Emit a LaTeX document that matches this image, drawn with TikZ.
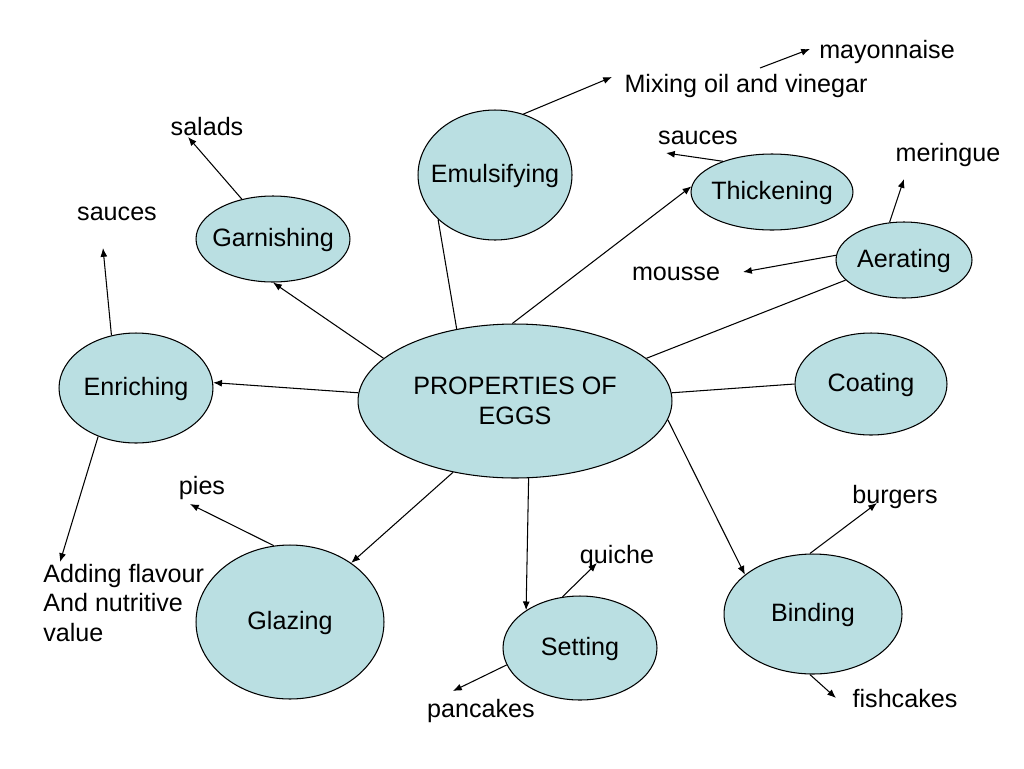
\documentclass[tikz,border=0pt]{standalone}
\usepackage{fontspec}
\setmainfont{Liberation Sans}
\usetikzlibrary{shapes.geometric,arrows.meta}
\definecolor{eggfill}{RGB}{186,223,226}
\begin{document}
\begin{tikzpicture}[x=0.02cm,y=-0.02cm,
  font=\fontsize{14.3}{17}\selectfont,
  prop/.style={ellipse,draw=black,line width=0.6pt,fill=eggfill,inner sep=0pt,text height=1.1em,text depth=0.21em},
  centre/.style={ellipse,draw=black,line width=0.6pt,fill=eggfill,inner sep=0pt,align=center},
  lbl/.style={inner sep=0pt,text height=1.1em,text depth=0.21em},
  multi/.style={inner sep=0pt,align=left},
  conn/.style={line width=0.6pt,draw=black},
  arr/.style={conn,-{Latex[length=5pt,width=4pt]}}]
\useasboundingbox (0,0) rectangle (1024,768);
% property ellipses
\node[centre,minimum width=6.28cm,minimum height=3.08cm] (c) at (515,401) {PROPERTIES OF\\EGGS};
\node[prop,minimum width=3.08cm,minimum height=2.6cm] (emu) at (495,175) {\makebox[0pt]{Emulsifying}};
\node[prop,minimum width=3.08cm,minimum height=1.72cm] (gar) at (273,239) {\makebox[0pt]{Garnishing}};
\node[prop,minimum width=3.08cm,minimum height=2.2cm] (enr) at (136,388) {\makebox[0pt]{Enriching}};
\node[prop,minimum width=3.24cm,minimum height=1.52cm] (thk) at (772,192) {\makebox[0pt]{Thickening}};
\node[prop,minimum width=2.72cm,minimum height=1.52cm] (aer) at (904,260) {\makebox[0pt]{Aerating}};
\node[prop,minimum width=3.04cm,minimum height=2.04cm] (coa) at (871,384) {\makebox[0pt]{Coating}};
\node[prop,minimum width=3.56cm,minimum height=2.4cm] (bnd) at (813,614) {\makebox[0pt]{Binding}};
\node[prop,minimum width=3.08cm,minimum height=2.08cm] (set) at (580,648) {\makebox[0pt]{Setting}};
\node[prop,minimum width=3.76cm,minimum height=3.08cm] (gla) at (290,622) {\makebox[0pt]{Glazing}};
% labels
\node[lbl] (mayo) at (887,51) {mayonnaise};
\node[lbl] (mix) at (746,85) {Mixing oil and vinegar};
\node[lbl] (tsau) at (698,137) {sauces};
\node[lbl] (mer) at (948,154) {meringue};
\node[lbl] (mou) at (676,273) {mousse};
\node[lbl] (sal) at (207,128) {salads};
\node[lbl] (esau) at (117,213) {sauces};
\node[lbl] (pies) at (202,487) {pies};
\node[multi,anchor=west] (add) at (43,603) {Adding flavour\\And nutritive\\value};
\node[lbl] (qui) at (617,556) {quiche};
\node[lbl] (pan) at (481,710) {pancakes};
\node[lbl] (bur) at (895,496) {burgers};
\node[lbl] (fis) at (905,700) {fishcakes};
% free connector ends
\coordinate (mixE) at (612,77);
\coordinate (mayS) at (760,68);
\coordinate (mayE) at (810,49);
\coordinate (tsauE) at (666,153);
\coordinate (merE) at (904,179);
\coordinate (mouE) at (743,272);
\coordinate (salE) at (188,137);
\coordinate (esauE) at (103,248);
\coordinate (addE) at (60,562);
\coordinate (piesE) at (190,504);
\coordinate (quiE) at (597,563);
\coordinate (panE) at (453,691);
\coordinate (burE) at (877,503);
\coordinate (fisE) at (836,698);
% connectors from centre
\draw[arr] (c.177) -- (enr.4);
\draw[arr] (c.162) -- (gar.south);
\draw[conn] (c.129) -- (emu.-142);
\draw[arr] (c.92) -- (thk.176);
\draw[conn] (c.18) -- (aer.-161);
\draw[conn] (c.3) -- (coa.180);
\draw[arr] (c.-7.5) -- (bnd.150);
\draw[arr] (c.-80.5) -- (set.145);
\draw[arr] (c.-131.5) -- (gla.44);
% secondary connectors
\draw[arr] (emu.65) -- (mixE);
\draw[arr] (mayS) -- (mayE);
\draw[arr] (thk.148) -- (tsauE);
\draw[arr] (aer.111) -- (merE);
\draw[arr] (aer.176) -- (mouE);
\draw[arr] (gar.128) -- (salE);
\draw[arr] (enr.115) -- (esauE);
\draw[arr] (enr.-128) -- (addE);
\draw[arr] (gla.102) -- (piesE);
\draw[arr] (set.109) -- (quiE);
\draw[arr] (set.-167) -- (panE);
\draw[arr] (bnd.93) -- (burE);
\draw[arr] (bnd.-93) -- (fisE);
\end{tikzpicture}
\end{document}
